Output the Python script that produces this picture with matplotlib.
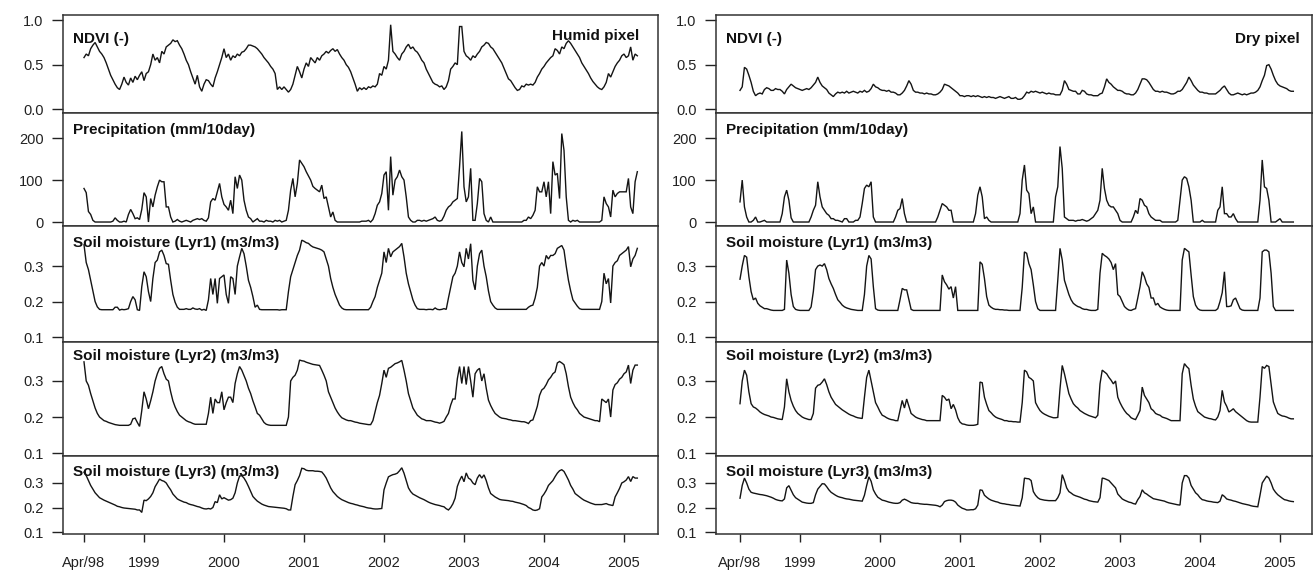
import numpy as np
import matplotlib
matplotlib.use("Agg")
import matplotlib.pyplot as plt

plt.rcParams['font.family'] = ['Liberation Sans', 'DejaVu Sans']

# dekadal values, 1st dekad of Apr 1998 .. 1st dekad of Mar 2005
# one line per Apr-Mar season (last one is short)

humid_ndvi = [
    0.58, 0.62, 0.60, 0.68, 0.72, 0.75, 0.70, 0.65, 0.62, 0.58, 0.52, 0.45, 0.38, 0.33, 0.28, 0.24, 0.22, 0.28, 0.36, 0.30, 0.27, 0.35, 0.30, 0.37, 0.33, 0.38, 0.42, 0.32, 0.40, 0.42, 0.50, 0.62, 0.55, 0.58, 0.52, 0.65,
    0.62, 0.70, 0.72, 0.74, 0.78, 0.76, 0.77, 0.72, 0.68, 0.62, 0.55, 0.50, 0.42, 0.35, 0.28, 0.38, 0.25, 0.20, 0.28, 0.33, 0.32, 0.28, 0.25, 0.35, 0.42, 0.50, 0.58, 0.68, 0.58, 0.62, 0.55, 0.60, 0.58, 0.62, 0.60, 0.64,
    0.65, 0.68, 0.72, 0.72, 0.71, 0.70, 0.68, 0.65, 0.62, 0.58, 0.55, 0.52, 0.48, 0.45, 0.40, 0.22, 0.25, 0.22, 0.25, 0.22, 0.19, 0.22, 0.28, 0.38, 0.48, 0.42, 0.35, 0.45, 0.52, 0.48, 0.58, 0.55, 0.52, 0.58, 0.55, 0.60,
    0.62, 0.65, 0.63, 0.66, 0.68, 0.65, 0.67, 0.62, 0.58, 0.55, 0.50, 0.47, 0.42, 0.35, 0.28, 0.20, 0.24, 0.22, 0.24, 0.22, 0.25, 0.24, 0.26, 0.25, 0.28, 0.40, 0.38, 0.48, 0.45, 0.55, 0.95, 0.65, 0.62, 0.58, 0.55, 0.62,
    0.65, 0.70, 0.73, 0.68, 0.70, 0.66, 0.64, 0.60, 0.55, 0.52, 0.45, 0.40, 0.35, 0.30, 0.28, 0.27, 0.25, 0.26, 0.22, 0.25, 0.32, 0.45, 0.48, 0.52, 0.50, 0.93, 0.93, 0.65, 0.60, 0.58, 0.55, 0.60, 0.58, 0.62, 0.65, 0.70,
    0.72, 0.75, 0.74, 0.70, 0.68, 0.64, 0.60, 0.56, 0.52, 0.46, 0.40, 0.34, 0.32, 0.28, 0.24, 0.21, 0.22, 0.26, 0.25, 0.28, 0.27, 0.28, 0.27, 0.30, 0.36, 0.40, 0.45, 0.48, 0.52, 0.55, 0.58, 0.60, 0.68, 0.66, 0.62, 0.70,
    0.68, 0.74, 0.77, 0.74, 0.70, 0.66, 0.62, 0.58, 0.52, 0.48, 0.44, 0.40, 0.35, 0.31, 0.28, 0.25, 0.23, 0.22, 0.25, 0.30, 0.40, 0.36, 0.42, 0.48, 0.52, 0.55, 0.60, 0.62, 0.58, 0.60, 0.70, 0.55, 0.62, 0.60,
]
humid_prcp = [
    80, 70, 25, 18, 4, 0, 0, 0, 0, 0, 0, 0, 0, 2, 10, 4, 0, 0, 2, 0, 18, 30, 20, 8, 10, 6, 30, 70, 60, 0, 56, 36, 64, 84, 100, 96,
    96, 36, 36, 12, 0, 2, 6, 2, 0, 2, 4, 2, 0, 4, 6, 8, 6, 8, 4, 2, 10, 48, 56, 52, 72, 92, 60, 42, 36, 28, 52, 20, 108, 80, 112, 100,
    52, 28, 12, 8, 0, 4, 8, 2, 2, 0, 4, 2, 2, 0, 4, 2, 4, 0, 2, 4, 28, 76, 104, 60, 92, 148, 140, 132, 120, 110, 100, 85, 80, 76, 72, 88,
    56, 60, 36, 12, 24, 4, 0, 0, 0, 0, 0, 0, 0, 0, 0, 0, 0, 2, 2, 2, 4, 0, 6, 20, 40, 48, 68, 112, 120, 28, 156, 64, 100, 108, 124, 108,
    100, 60, 12, 4, 0, 0, 4, 4, 2, 4, 2, 4, 6, 8, 12, 4, 2, 4, 14, 28, 36, 40, 48, 52, 56, 132, 216, 84, 48, 60, 128, 4, 4, 44, 104, 96,
    20, 4, 0, 12, 0, 0, 0, 0, 0, 0, 0, 0, 0, 0, 0, 0, 0, 0, 4, 4, 12, 8, 16, 28, 84, 72, 72, 96, 60, 96, 20, 144, 112, 116, 56, 211,
    171, 60, 4, 0, 4, 2, 4, 0, 0, 0, 0, 0, 0, 0, 0, 0, 0, 4, 60, 44, 36, 12, 76, 60, 68, 72, 72, 72, 72, 104, 36, 20, 96, 120,
]
humid_sm1 = [
    0.36, 0.31, 0.29, 0.26, 0.23, 0.20, 0.185, 0.178, 0.177, 0.177, 0.177, 0.177, 0.177, 0.177, 0.184, 0.184, 0.176, 0.178, 0.177, 0.178, 0.180, 0.20, 0.214, 0.205, 0.177, 0.175, 0.242, 0.284, 0.27, 0.228, 0.20, 0.265, 0.31, 0.317, 0.34, 0.345,
    0.33, 0.307, 0.305, 0.26, 0.22, 0.198, 0.184, 0.178, 0.178, 0.178, 0.180, 0.178, 0.178, 0.182, 0.179, 0.178, 0.180, 0.176, 0.178, 0.175, 0.205, 0.265, 0.22, 0.265, 0.195, 0.265, 0.27, 0.275, 0.22, 0.195, 0.27, 0.265, 0.22, 0.30, 0.326, 0.35,
    0.335, 0.30, 0.26, 0.24, 0.214, 0.184, 0.19, 0.178, 0.177, 0.177, 0.177, 0.177, 0.177, 0.177, 0.177, 0.177, 0.176, 0.177, 0.177, 0.177, 0.228, 0.27, 0.29, 0.31, 0.33, 0.345, 0.373, 0.37, 0.366, 0.364, 0.358, 0.354, 0.352, 0.35, 0.348, 0.345,
    0.34, 0.32, 0.30, 0.265, 0.24, 0.22, 0.205, 0.19, 0.182, 0.178, 0.177, 0.177, 0.177, 0.177, 0.177, 0.177, 0.177, 0.177, 0.177, 0.177, 0.177, 0.184, 0.20, 0.214, 0.24, 0.26, 0.28, 0.34, 0.31, 0.35, 0.326, 0.34, 0.345, 0.35, 0.355, 0.364,
    0.326, 0.28, 0.25, 0.228, 0.205, 0.19, 0.18, 0.178, 0.178, 0.178, 0.177, 0.178, 0.178, 0.177, 0.182, 0.178, 0.177, 0.178, 0.18, 0.178, 0.21, 0.24, 0.27, 0.28, 0.30, 0.34, 0.31, 0.298, 0.35, 0.32, 0.363, 0.26, 0.233, 0.30, 0.335, 0.345,
    0.30, 0.27, 0.23, 0.20, 0.19, 0.182, 0.178, 0.178, 0.178, 0.178, 0.178, 0.178, 0.178, 0.178, 0.178, 0.178, 0.178, 0.178, 0.178, 0.178, 0.184, 0.188, 0.19, 0.21, 0.24, 0.30, 0.31, 0.30, 0.33, 0.32, 0.33, 0.33, 0.335, 0.35, 0.354, 0.358,
    0.345, 0.30, 0.26, 0.23, 0.205, 0.196, 0.187, 0.18, 0.178, 0.178, 0.178, 0.178, 0.178, 0.178, 0.178, 0.178, 0.178, 0.20, 0.28, 0.25, 0.265, 0.196, 0.30, 0.31, 0.315, 0.33, 0.335, 0.34, 0.345, 0.355, 0.298, 0.32, 0.33, 0.35,
]
humid_sm2 = [
    0.353, 0.30, 0.288, 0.265, 0.245, 0.225, 0.21, 0.20, 0.195, 0.19, 0.188, 0.185, 0.183, 0.181, 0.179, 0.178, 0.177, 0.177, 0.177, 0.177, 0.177, 0.18, 0.195, 0.197, 0.185, 0.174, 0.218, 0.27, 0.25, 0.223, 0.245, 0.27, 0.30, 0.32, 0.335, 0.34,
    0.32, 0.305, 0.30, 0.27, 0.245, 0.228, 0.215, 0.205, 0.20, 0.195, 0.19, 0.187, 0.185, 0.182, 0.18, 0.18, 0.18, 0.18, 0.18, 0.18, 0.21, 0.255, 0.21, 0.25, 0.24, 0.24, 0.27, 0.22, 0.24, 0.255, 0.255, 0.24, 0.293, 0.32, 0.34, 0.33,
    0.315, 0.30, 0.28, 0.265, 0.245, 0.228, 0.21, 0.205, 0.195, 0.185, 0.18, 0.178, 0.177, 0.177, 0.177, 0.177, 0.177, 0.177, 0.177, 0.177, 0.20, 0.30, 0.31, 0.316, 0.33, 0.358, 0.356, 0.355, 0.352, 0.35, 0.348, 0.346, 0.345, 0.344, 0.343, 0.33,
    0.316, 0.30, 0.27, 0.255, 0.24, 0.225, 0.214, 0.205, 0.198, 0.195, 0.192, 0.19, 0.19, 0.188, 0.186, 0.185, 0.183, 0.182, 0.181, 0.18, 0.179, 0.179, 0.19, 0.215, 0.24, 0.26, 0.293, 0.33, 0.31, 0.335, 0.338, 0.343, 0.348, 0.35, 0.353, 0.357,
    0.33, 0.30, 0.265, 0.245, 0.225, 0.215, 0.205, 0.20, 0.195, 0.193, 0.19, 0.19, 0.19, 0.188, 0.186, 0.185, 0.183, 0.185, 0.188, 0.20, 0.21, 0.233, 0.25, 0.25, 0.306, 0.34, 0.293, 0.34, 0.29, 0.34, 0.30, 0.255, 0.32, 0.33, 0.335, 0.30,
    0.32, 0.28, 0.247, 0.232, 0.22, 0.21, 0.205, 0.20, 0.197, 0.196, 0.195, 0.193, 0.192, 0.19, 0.19, 0.189, 0.188, 0.187, 0.187, 0.185, 0.182, 0.19, 0.192, 0.21, 0.23, 0.26, 0.275, 0.28, 0.29, 0.303, 0.31, 0.32, 0.325, 0.35, 0.354, 0.35,
    0.345, 0.32, 0.284, 0.255, 0.24, 0.228, 0.22, 0.21, 0.205, 0.20, 0.198, 0.196, 0.194, 0.192, 0.19, 0.19, 0.187, 0.25, 0.245, 0.24, 0.25, 0.20, 0.275, 0.29, 0.295, 0.305, 0.31, 0.32, 0.325, 0.344, 0.293, 0.33, 0.344, 0.344,
]
humid_sm3 = [
    0.344, 0.33, 0.31, 0.29, 0.275, 0.26, 0.25, 0.24, 0.235, 0.23, 0.226, 0.222, 0.218, 0.214, 0.21, 0.205, 0.203, 0.20, 0.198, 0.197, 0.196, 0.195, 0.194, 0.193, 0.19, 0.19, 0.18, 0.23, 0.228, 0.235, 0.245, 0.26, 0.285, 0.30, 0.316, 0.31,
    0.307, 0.30, 0.285, 0.272, 0.255, 0.245, 0.235, 0.23, 0.226, 0.222, 0.22, 0.215, 0.212, 0.21, 0.207, 0.204, 0.202, 0.198, 0.195, 0.194, 0.196, 0.194, 0.20, 0.224, 0.22, 0.252, 0.235, 0.24, 0.235, 0.23, 0.232, 0.238, 0.26, 0.30, 0.328, 0.33,
    0.32, 0.305, 0.286, 0.265, 0.245, 0.235, 0.226, 0.22, 0.214, 0.21, 0.207, 0.204, 0.203, 0.202, 0.201, 0.20, 0.199, 0.198, 0.197, 0.195, 0.19, 0.19, 0.245, 0.293, 0.31, 0.33, 0.36, 0.358, 0.352, 0.35, 0.35, 0.35, 0.348, 0.348, 0.347, 0.345,
    0.334, 0.32, 0.30, 0.28, 0.265, 0.255, 0.245, 0.238, 0.232, 0.228, 0.224, 0.22, 0.217, 0.215, 0.212, 0.21, 0.207, 0.205, 0.203, 0.20, 0.198, 0.197, 0.195, 0.194, 0.194, 0.195, 0.196, 0.272, 0.30, 0.325, 0.33, 0.334, 0.336, 0.34, 0.35, 0.362,
    0.34, 0.31, 0.28, 0.265, 0.255, 0.25, 0.245, 0.24, 0.236, 0.232, 0.227, 0.222, 0.218, 0.215, 0.212, 0.21, 0.208, 0.205, 0.203, 0.195, 0.19, 0.20, 0.215, 0.238, 0.286, 0.31, 0.328, 0.305, 0.341, 0.32, 0.314, 0.30, 0.293, 0.32, 0.334, 0.32,
    0.333, 0.31, 0.28, 0.257, 0.25, 0.243, 0.238, 0.233, 0.231, 0.23, 0.229, 0.228, 0.226, 0.225, 0.222, 0.22, 0.218, 0.215, 0.212, 0.208, 0.20, 0.196, 0.19, 0.188, 0.19, 0.195, 0.243, 0.255, 0.27, 0.29, 0.30, 0.31, 0.326, 0.34, 0.35, 0.354,
    0.347, 0.33, 0.312, 0.29, 0.275, 0.257, 0.25, 0.243, 0.236, 0.23, 0.226, 0.222, 0.218, 0.215, 0.212, 0.212, 0.212, 0.212, 0.214, 0.216, 0.212, 0.21, 0.208, 0.243, 0.26, 0.278, 0.30, 0.305, 0.312, 0.326, 0.306, 0.326, 0.32, 0.32,
]

dry_ndvi = [
    0.21, 0.25, 0.47, 0.45, 0.38, 0.30, 0.20, 0.15, 0.17, 0.18, 0.17, 0.22, 0.24, 0.23, 0.21, 0.21, 0.23, 0.22, 0.22, 0.20, 0.17, 0.22, 0.25, 0.28, 0.26, 0.24, 0.23, 0.22, 0.21, 0.22, 0.23, 0.22, 0.24, 0.27, 0.30, 0.36,
    0.30, 0.26, 0.24, 0.22, 0.18, 0.16, 0.14, 0.17, 0.19, 0.18, 0.19, 0.18, 0.20, 0.18, 0.19, 0.20, 0.19, 0.18, 0.20, 0.19, 0.21, 0.19, 0.20, 0.23, 0.28, 0.25, 0.24, 0.22, 0.21, 0.21, 0.20, 0.21, 0.19, 0.19, 0.18, 0.16,
    0.16, 0.18, 0.21, 0.26, 0.32, 0.28, 0.21, 0.19, 0.19, 0.18, 0.18, 0.17, 0.18, 0.17, 0.17, 0.16, 0.16, 0.17, 0.19, 0.22, 0.28, 0.27, 0.26, 0.24, 0.22, 0.20, 0.18, 0.15, 0.15, 0.14, 0.15, 0.15, 0.14, 0.15, 0.14, 0.15,
    0.14, 0.13, 0.14, 0.13, 0.14, 0.13, 0.13, 0.12, 0.13, 0.14, 0.13, 0.12, 0.13, 0.14, 0.12, 0.12, 0.13, 0.11, 0.11, 0.12, 0.15, 0.19, 0.18, 0.20, 0.19, 0.20, 0.19, 0.18, 0.19, 0.18, 0.17, 0.18, 0.17, 0.17, 0.16, 0.16,
    0.16, 0.21, 0.32, 0.28, 0.22, 0.21, 0.20, 0.20, 0.17, 0.17, 0.21, 0.20, 0.17, 0.16, 0.16, 0.15, 0.15, 0.15, 0.17, 0.18, 0.25, 0.34, 0.30, 0.28, 0.25, 0.23, 0.21, 0.21, 0.20, 0.18, 0.17, 0.17, 0.16, 0.16, 0.18, 0.22,
    0.28, 0.34, 0.34, 0.33, 0.30, 0.26, 0.22, 0.20, 0.20, 0.19, 0.20, 0.19, 0.19, 0.18, 0.17, 0.17, 0.18, 0.20, 0.20, 0.22, 0.26, 0.30, 0.36, 0.32, 0.27, 0.24, 0.21, 0.19, 0.19, 0.18, 0.18, 0.17, 0.17, 0.17, 0.17, 0.19,
    0.21, 0.24, 0.26, 0.22, 0.18, 0.16, 0.16, 0.17, 0.18, 0.17, 0.16, 0.17, 0.16, 0.17, 0.18, 0.18, 0.19, 0.21, 0.25, 0.32, 0.38, 0.49, 0.50, 0.45, 0.38, 0.32, 0.28, 0.26, 0.25, 0.24, 0.23, 0.21, 0.20, 0.20,
]
dry_prcp = [
    48, 100, 36, 12, 0, 0, 4, 12, 0, 0, 2, 4, 0, 0, 0, 0, 0, 0, 0, 20, 60, 76, 52, 10, 0, 0, 0, 0, 0, 0, 0, 0, 12, 28, 40, 96,
    60, 36, 28, 20, 16, 8, 8, 4, 4, 2, 0, 8, 8, 0, 0, 0, 4, 4, 12, 44, 80, 88, 84, 96, 12, 0, 0, 0, 0, 0, 0, 0, 0, 0, 12, 28,
    32, 56, 20, 0, 0, 0, 0, 0, 0, 0, 0, 0, 0, 0, 0, 0, 0, 12, 28, 44, 40, 36, 28, 28, 0, 0, 0, 0, 0, 0, 0, 0, 0, 0, 20, 64,
    84, 60, 8, 12, 4, 0, 0, 0, 0, 0, 0, 0, 0, 0, 0, 0, 0, 0, 20, 100, 136, 76, 68, 20, 36, 0, 0, 0, 0, 0, 0, 0, 0, 0, 60, 84,
    180, 128, 12, 8, 4, 4, 4, 2, 4, 4, 6, 4, 2, 4, 8, 12, 20, 28, 52, 128, 80, 52, 40, 36, 36, 28, 20, 4, 0, 0, 0, 0, 0, 12, 28, 20,
    56, 52, 40, 36, 20, 12, 8, 4, 4, 4, 0, 0, 0, 0, 0, 0, 0, 4, 52, 100, 108, 104, 84, 52, 0, 0, 0, 0, 4, 0, 0, 0, 0, 0, 0, 28,
    36, 84, 20, 20, 12, 12, 20, 8, 0, 0, 0, 0, 0, 0, 0, 0, 0, 0, 52, 148, 84, 80, 52, 0, 0, 0, 4, 8, 0, 0, 0, 0, 0, 0,
]
dry_sm1 = [
    0.263, 0.30, 0.33, 0.325, 0.27, 0.228, 0.205, 0.21, 0.195, 0.188, 0.184, 0.18, 0.18, 0.178, 0.176, 0.175, 0.175, 0.175, 0.175, 0.175, 0.178, 0.317, 0.28, 0.22, 0.186, 0.178, 0.176, 0.175, 0.175, 0.175, 0.175, 0.175, 0.185, 0.228, 0.29, 0.30,
    0.303, 0.30, 0.307, 0.29, 0.265, 0.25, 0.237, 0.22, 0.205, 0.198, 0.19, 0.185, 0.182, 0.18, 0.178, 0.177, 0.176, 0.175, 0.175, 0.175, 0.22, 0.30, 0.33, 0.32, 0.242, 0.18, 0.176, 0.175, 0.175, 0.175, 0.175, 0.175, 0.175, 0.175, 0.175, 0.175,
    0.205, 0.237, 0.233, 0.233, 0.205, 0.178, 0.175, 0.175, 0.175, 0.175, 0.175, 0.175, 0.175, 0.175, 0.175, 0.175, 0.175, 0.175, 0.175, 0.275, 0.256, 0.247, 0.235, 0.242, 0.21, 0.242, 0.175, 0.175, 0.175, 0.175, 0.175, 0.175, 0.175, 0.175, 0.175, 0.175,
    0.312, 0.305, 0.265, 0.214, 0.19, 0.184, 0.18, 0.178, 0.178, 0.177, 0.177, 0.176, 0.176, 0.175, 0.175, 0.175, 0.175, 0.175, 0.175, 0.24, 0.34, 0.336, 0.307, 0.29, 0.247, 0.20, 0.18, 0.175, 0.175, 0.175, 0.175, 0.175, 0.175, 0.175, 0.175, 0.26,
    0.35, 0.317, 0.26, 0.24, 0.22, 0.205, 0.195, 0.19, 0.186, 0.184, 0.18, 0.178, 0.178, 0.176, 0.175, 0.175, 0.175, 0.178, 0.28, 0.336, 0.33, 0.326, 0.32, 0.31, 0.29, 0.307, 0.22, 0.214, 0.20, 0.186, 0.18, 0.176, 0.175, 0.178, 0.18, 0.21,
    0.242, 0.284, 0.27, 0.25, 0.24, 0.21, 0.21, 0.19, 0.195, 0.185, 0.181, 0.178, 0.176, 0.175, 0.175, 0.175, 0.175, 0.175, 0.175, 0.317, 0.35, 0.345, 0.34, 0.275, 0.214, 0.19, 0.18, 0.176, 0.175, 0.175, 0.175, 0.175, 0.175, 0.175, 0.175, 0.18,
    0.20, 0.225, 0.284, 0.186, 0.186, 0.188, 0.205, 0.21, 0.195, 0.18, 0.176, 0.175, 0.175, 0.175, 0.175, 0.175, 0.175, 0.175, 0.21, 0.34, 0.345, 0.345, 0.34, 0.28, 0.186, 0.175, 0.175, 0.175, 0.175, 0.175, 0.175, 0.175, 0.175, 0.175,
]
dry_sm2 = [
    0.237, 0.30, 0.33, 0.316, 0.27, 0.237, 0.228, 0.225, 0.22, 0.214, 0.21, 0.207, 0.205, 0.203, 0.20, 0.199, 0.197, 0.195, 0.194, 0.193, 0.228, 0.306, 0.27, 0.246, 0.23, 0.218, 0.21, 0.205, 0.20, 0.197, 0.195, 0.193, 0.193, 0.21, 0.28, 0.288,
    0.29, 0.297, 0.306, 0.29, 0.27, 0.255, 0.245, 0.235, 0.23, 0.225, 0.22, 0.216, 0.212, 0.208, 0.205, 0.203, 0.20, 0.198, 0.197, 0.196, 0.255, 0.31, 0.33, 0.30, 0.27, 0.24, 0.228, 0.215, 0.205, 0.202, 0.198, 0.195, 0.193, 0.192, 0.19, 0.19,
    0.218, 0.246, 0.225, 0.25, 0.23, 0.21, 0.205, 0.20, 0.197, 0.195, 0.193, 0.192, 0.19, 0.19, 0.19, 0.19, 0.19, 0.19, 0.19, 0.26, 0.255, 0.246, 0.25, 0.223, 0.235, 0.22, 0.198, 0.186, 0.181, 0.18, 0.178, 0.177, 0.177, 0.177, 0.178, 0.18,
    0.297, 0.295, 0.255, 0.235, 0.218, 0.212, 0.205, 0.20, 0.197, 0.195, 0.193, 0.19, 0.19, 0.188, 0.188, 0.187, 0.187, 0.186, 0.186, 0.24, 0.33, 0.325, 0.31, 0.306, 0.30, 0.24, 0.228, 0.218, 0.212, 0.208, 0.205, 0.202, 0.20, 0.198, 0.198, 0.199,
    0.278, 0.343, 0.32, 0.292, 0.265, 0.25, 0.237, 0.23, 0.225, 0.218, 0.214, 0.21, 0.207, 0.204, 0.202, 0.20, 0.198, 0.205, 0.292, 0.33, 0.325, 0.32, 0.31, 0.302, 0.292, 0.30, 0.255, 0.24, 0.228, 0.218, 0.21, 0.205, 0.198, 0.195, 0.193, 0.205,
    0.218, 0.283, 0.26, 0.25, 0.24, 0.223, 0.218, 0.21, 0.207, 0.205, 0.20, 0.198, 0.196, 0.193, 0.19, 0.19, 0.19, 0.19, 0.19, 0.32, 0.348, 0.34, 0.334, 0.288, 0.25, 0.23, 0.215, 0.21, 0.205, 0.20, 0.198, 0.196, 0.195, 0.193, 0.192, 0.20,
    0.218, 0.274, 0.242, 0.23, 0.214, 0.218, 0.223, 0.215, 0.21, 0.205, 0.20, 0.195, 0.19, 0.187, 0.186, 0.186, 0.186, 0.186, 0.255, 0.34, 0.335, 0.343, 0.34, 0.292, 0.242, 0.225, 0.21, 0.206, 0.203, 0.202, 0.20, 0.197, 0.195, 0.195,
]
dry_sm3 = [
    0.238, 0.29, 0.32, 0.30, 0.275, 0.262, 0.259, 0.257, 0.255, 0.253, 0.252, 0.25, 0.248, 0.245, 0.242, 0.238, 0.233, 0.23, 0.228, 0.227, 0.235, 0.28, 0.289, 0.27, 0.252, 0.24, 0.234, 0.228, 0.222, 0.22, 0.218, 0.217, 0.217, 0.22, 0.252, 0.275,
    0.286, 0.297, 0.296, 0.285, 0.272, 0.262, 0.256, 0.25, 0.245, 0.242, 0.24, 0.237, 0.235, 0.234, 0.232, 0.23, 0.229, 0.228, 0.227, 0.226, 0.25, 0.29, 0.325, 0.307, 0.272, 0.255, 0.242, 0.236, 0.23, 0.228, 0.225, 0.222, 0.22, 0.218, 0.217, 0.217,
    0.22, 0.23, 0.234, 0.23, 0.225, 0.22, 0.218, 0.217, 0.217, 0.215, 0.214, 0.213, 0.213, 0.212, 0.211, 0.21, 0.209, 0.207, 0.203, 0.21, 0.224, 0.228, 0.23, 0.23, 0.228, 0.222, 0.21, 0.203, 0.197, 0.194, 0.19, 0.19, 0.191, 0.191, 0.195, 0.21,
    0.272, 0.27, 0.25, 0.242, 0.235, 0.23, 0.227, 0.224, 0.222, 0.218, 0.216, 0.215, 0.213, 0.212, 0.21, 0.209, 0.208, 0.207, 0.206, 0.24, 0.32, 0.318, 0.317, 0.31, 0.265, 0.25, 0.24, 0.234, 0.232, 0.23, 0.229, 0.228, 0.228, 0.228, 0.228, 0.24,
    0.26, 0.334, 0.31, 0.28, 0.265, 0.259, 0.252, 0.248, 0.245, 0.242, 0.238, 0.234, 0.232, 0.228, 0.226, 0.224, 0.223, 0.222, 0.24, 0.32, 0.318, 0.314, 0.31, 0.30, 0.29, 0.28, 0.255, 0.245, 0.235, 0.23, 0.226, 0.222, 0.22, 0.216, 0.214, 0.232,
    0.245, 0.272, 0.26, 0.255, 0.248, 0.242, 0.236, 0.234, 0.232, 0.23, 0.228, 0.226, 0.222, 0.219, 0.217, 0.215, 0.213, 0.211, 0.21, 0.30, 0.33, 0.33, 0.32, 0.29, 0.275, 0.26, 0.252, 0.24, 0.232, 0.23, 0.227, 0.225, 0.224, 0.222, 0.221, 0.22,
    0.226, 0.252, 0.245, 0.235, 0.232, 0.23, 0.227, 0.225, 0.222, 0.219, 0.216, 0.214, 0.212, 0.21, 0.207, 0.205, 0.204, 0.203, 0.25, 0.30, 0.314, 0.328, 0.32, 0.30, 0.275, 0.262, 0.252, 0.245, 0.238, 0.232, 0.23, 0.227, 0.225, 0.224,
]

start = 1998.25          # first dekad of April 1998, in decimal years
xticks = [1998.25, 1999, 2000, 2001, 2002, 2003, 2004, 2005]
xlabels = ['Apr/98', '1999', '2000', '2001', '2002', '2003', '2004', '2005']
names = ['NDVI (-)', 'Precipitation (mm/10day)', 'Soil moisture (Lyr1) (m3/m3)',
         'Soil moisture (Lyr2) (m3/m3)', 'Soil moisture (Lyr3) (m3/m3)']

humid = [humid_ndvi, humid_prcp, humid_sm1, humid_sm2, humid_sm3]
dry = [dry_ndvi, dry_prcp, dry_sm1, dry_sm2, dry_sm3]
for s in humid + dry:
    assert len(s) == 250, len(s)

ylims = [(-0.045, 1.06), (-9.5, 260), (0.086, 0.413), (0.092, 0.408), (0.092, 0.41)]
yticks = [[0, 0.5, 1.0], [0, 100, 200], [0.1, 0.2, 0.3], [0.1, 0.2, 0.3], [0.1, 0.2, 0.3]]
yfmt = ['{:.1f}', '{:.0f}', '{:.1f}', '{:.1f}', '{:.1f}']
name_gap = [17, 10, 10, 7, 9]   # px from panel top to text top

fig = plt.figure(figsize=(13.15, 5.70), dpi=100)
W, H = 1315.0, 570.0
fig.patch.set_facecolor('white')


def column(series, x0, x1, xlim, corner, corner_dx, corner_dy):
    gs = fig.add_gridspec(5, 1, left=x0 / W, right=x1 / W, top=1 - 15 / H, bottom=1 - 534 / H,
                          hspace=0, height_ratios=[98, 113, 116, 114, 78])
    for k in range(5):
        ax = fig.add_subplot(gs[k])
        y = np.asarray(series[k], dtype=float)
        x = start + np.arange(len(y)) / 36.0
        ax.plot(x, y, color='#141414', lw=1.0, solid_joinstyle='miter')
        ax.set_xlim(*xlim)
        ax.set_ylim(*ylims[k])
        ax.set_yticks(yticks[k])
        ax.set_yticklabels([yfmt[k].format(v) for v in yticks[k]])
        ax.tick_params(axis='y', direction='out', length=8, width=1.0, pad=6,
                       labelsize=10.5, colors='#222222')
        for sp in ax.spines.values():
            sp.set_linewidth(1.1)
            sp.set_color('#333333')
        if k < 4:
            ax.tick_params(axis='x', bottom=False, labelbottom=False)
        else:
            ax.set_xticks(xticks)
            ax.set_xticklabels(xlabels)
            ax.tick_params(axis='x', direction='out', length=6, width=1.0, pad=10,
                           labelsize=10.5, colors='#222222')
        ax.annotate(names[k], xy=(0, 1), xycoords='axes fraction',
                    xytext=(7.5, -name_gap[k] * 0.72), textcoords='offset points',
                    ha='left', va='top', fontsize=11, fontweight='bold', color='#111111')
        if k == 0:
            ax.annotate(corner, xy=(1, 1), xycoords='axes fraction',
                        xytext=(-corner_dx * 0.72, -corner_dy * 0.72), textcoords='offset points',
                        ha='right', va='top', fontsize=11, fontweight='bold', color='#111111')


column(humid, 63, 658, (1997.9875, 2005.425), 'Humid pixel', 19, 14)
column(dry, 716, 1312, (1997.95, 2005.40), 'Dry pixel', 12, 17)

fig.savefig('out.png', dpi=100)
